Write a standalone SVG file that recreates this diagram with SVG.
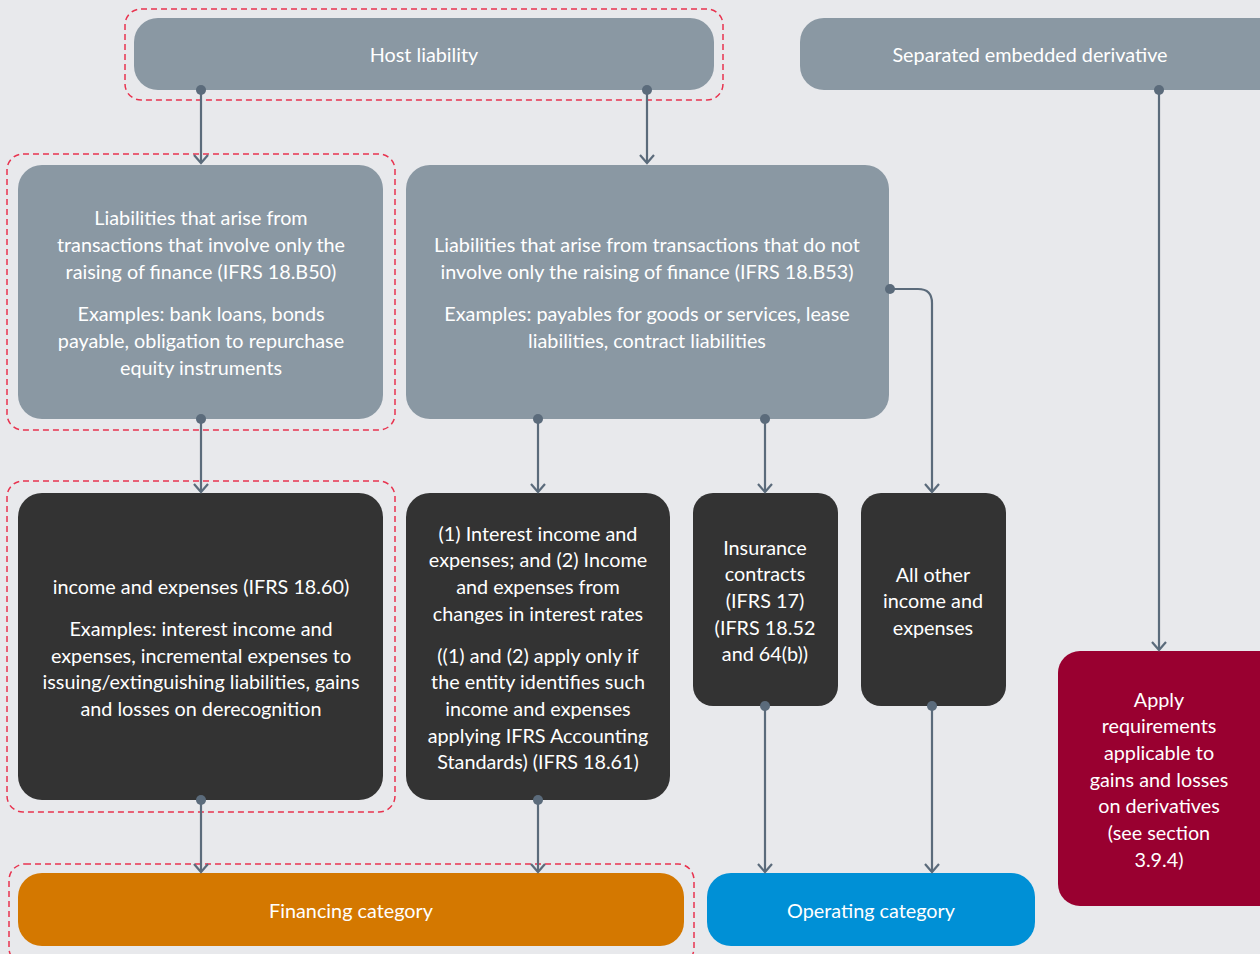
<svg xmlns="http://www.w3.org/2000/svg" width="1260" height="954" viewBox="0 0 1260 954">
<style>
.t{font-family:"Lato","Liberation Sans",sans-serif;font-size:19.8px;fill:#ffffff;text-anchor:middle}
.grey{fill:#8a98a3}
.dark{fill:#333333}
.dash{fill:none;stroke:#e8334f;stroke-width:1.5;stroke-dasharray:6 4}
.c{fill:none;stroke:#5b6b7b;stroke-width:2.2}
.dot{fill:#5b6b7b}
</style>
<defs>
<marker id="arr" viewBox="0 0 12 16" refX="10" refY="8" markerWidth="12" markerHeight="16" markerUnits="userSpaceOnUse" orient="auto">
<path d="M2 1 L10 8 L2 15" fill="none" stroke="#5b6b7b" stroke-width="2.2"/>
</marker>
</defs>
<rect width="1260" height="954" fill="#e8e9ec"/>
<g id="groups">
<rect class="dash" x="125" y="9" width="598" height="91" rx="16"/>
<rect class="dash" x="7" y="154" width="388" height="276" rx="16"/>
<rect class="dash" x="7" y="481" width="388" height="331" rx="16"/>
<rect class="dash" x="9" y="864" width="685" height="100" rx="16"/>
</g>
<g id="host">
<rect class="grey" x="134" y="18" width="580" height="72" rx="24"/>
<text class="t" x="424" y="62">Host liability</text>
</g>
<g id="sep">
<rect class="grey" x="800" y="18" width="484" height="72" rx="24"/>
<text class="t" x="1030" y="62">Separated embedded derivative</text>
</g>
<g id="liabFin">
<rect class="grey" x="18" y="165" width="365" height="254" rx="24"/>
<text class="t" x="201" y="225">Liabilities that arise from</text>
<text class="t" x="201" y="252">transactions that involve only the</text>
<text class="t" x="201" y="279">raising of finance (IFRS 18.B50)</text>
<text class="t" x="201" y="321">Examples: bank loans, bonds</text>
<text class="t" x="201" y="348">payable, obligation to repurchase</text>
<text class="t" x="201" y="375">equity instruments</text>
</g>
<g id="liabOther">
<rect class="grey" x="406" y="165" width="483" height="254" rx="24"/>
<text class="t" x="647" y="252">Liabilities that arise from transactions that do not</text>
<text class="t" x="647" y="279">involve only the raising of finance (IFRS 18.B53)</text>
<text class="t" x="647" y="321">Examples: payables for goods or services, lease</text>
<text class="t" x="647" y="348">liabilities, contract liabilities</text>
</g>
<g id="incExp">
<rect class="dark" x="18" y="493" width="365" height="307" rx="24"/>
<text class="t" x="201" y="594">income and expenses (IFRS 18.60)</text>
<text class="t" x="201" y="636">Examples: interest income and</text>
<text class="t" x="201" y="663">expenses, incremental expenses to</text>
<text class="t" x="201" y="689">issuing/extinguishing liabilities, gains</text>
<text class="t" x="201" y="716">and losses on derecognition</text>
</g>
<g id="interest">
<rect class="dark" x="406" y="493" width="264" height="307" rx="24"/>
<text class="t" x="538" y="541">(1) Interest income and</text>
<text class="t" x="538" y="567">expenses; and (2) Income</text>
<text class="t" x="538" y="594">and expenses from</text>
<text class="t" x="538" y="621">changes in interest rates</text>
<text class="t" x="538" y="663">((1) and (2) apply only if</text>
<text class="t" x="538" y="689">the entity identifies such</text>
<text class="t" x="538" y="716">income and expenses</text>
<text class="t" x="538" y="743">applying IFRS Accounting</text>
<text class="t" x="538" y="769">Standards) (IFRS 18.61)</text>
</g>
<g id="insurance">
<rect class="dark" x="693" y="493" width="145" height="213" rx="20"/>
<text class="t" x="765" y="555">Insurance</text>
<text class="t" x="765" y="581">contracts</text>
<text class="t" x="765" y="608">(IFRS 17)</text>
<text class="t" x="765" y="635">(IFRS 18.52</text>
<text class="t" x="765" y="661">and 64(b))</text>
</g>
<g id="allOther">
<rect class="dark" x="861" y="493" width="145" height="213" rx="20"/>
<text class="t" x="933" y="582">All other</text>
<text class="t" x="933" y="608">income and</text>
<text class="t" x="933" y="635">expenses</text>
</g>
<g id="apply">
<rect x="1058" y="651" width="226" height="255" rx="22" fill="#990030"/>
<text class="t" x="1159" y="707">Apply</text>
<text class="t" x="1159" y="733">requirements</text>
<text class="t" x="1159" y="760">applicable to</text>
<text class="t" x="1159" y="787">gains and losses</text>
<text class="t" x="1159" y="813">on derivatives</text>
<text class="t" x="1159" y="840">(see section</text>
<text class="t" x="1159" y="867">3.9.4)</text>
</g>
<g id="financing">
<rect x="18" y="873" width="666" height="73" rx="24" fill="#d47800"/>
<text class="t" x="351" y="918">Financing category</text>
</g>
<g id="operating">
<rect x="707" y="873" width="328" height="73" rx="24" fill="#0090d6"/>
<text class="t" x="871" y="918">Operating category</text>
</g>
<g id="connectors">
<path class="c" d="M201 90 V163" marker-end="url(#arr)"/>
<path class="c" d="M647 90 V163" marker-end="url(#arr)"/>
<path class="c" d="M201 419 V492" marker-end="url(#arr)"/>
<path class="c" d="M538 419 V492" marker-end="url(#arr)"/>
<path class="c" d="M765 419 V492" marker-end="url(#arr)"/>
<path class="c" d="M890 289 H918 Q932 289 932 303 V492" marker-end="url(#arr)"/>
<path class="c" d="M1159 90 V650" marker-end="url(#arr)"/>
<path class="c" d="M201 800 V872" marker-end="url(#arr)"/>
<path class="c" d="M538 800 V872" marker-end="url(#arr)"/>
<path class="c" d="M765 706 V872" marker-end="url(#arr)"/>
<path class="c" d="M932 706 V872" marker-end="url(#arr)"/>
<circle class="dot" cx="201" cy="90" r="5"/>
<circle class="dot" cx="647" cy="90" r="5"/>
<circle class="dot" cx="201" cy="419" r="5"/>
<circle class="dot" cx="538" cy="419" r="5"/>
<circle class="dot" cx="765" cy="419" r="5"/>
<circle class="dot" cx="890" cy="289" r="5"/>
<circle class="dot" cx="1159" cy="90" r="5"/>
<circle class="dot" cx="201" cy="800" r="5"/>
<circle class="dot" cx="538" cy="800" r="5"/>
<circle class="dot" cx="765" cy="706" r="5"/>
<circle class="dot" cx="932" cy="706" r="5"/>
</g>
</svg>
